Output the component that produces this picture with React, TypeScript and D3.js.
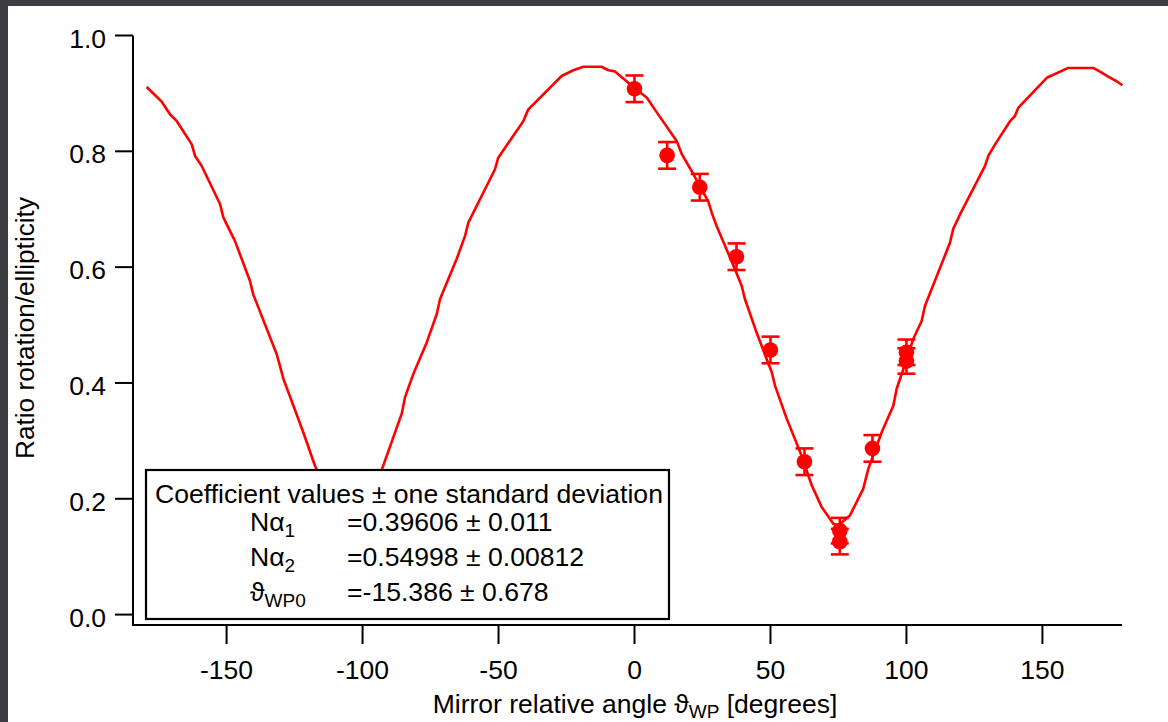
import React from "react";
import * as d3 from "d3";

// Fit curve
const curveX = [
  -179.4, -173.9, -170.8, -168.3, -162.8, -161.6, -159.2, -152.4, -151.2, -146.9,
  -141.4, -140.2, -131.6, -130.4, -129.1, -121.8, -117.5, -112, -108, -104.5, -101, -97,
  -92.4, -88.7, -85.6, -84.4, -81.3, -76.4, -72.7, -71.5, -65.4, -62.3, -61.1, -51.3,
  -50.1, -40.9, -39.1, -26.8, -22.5, -18.8, -12.1, -9.6, -7.2, -2.9, 0.2, 4.5, 7.5,
  15.5, 17.4, 21.0, 27.1, 28.4, 30.2, 36.9, 39.4, 40.6, 44.9, 50.5, 51.7, 56.0, 60.9,
  65.2, 68.8, 73.1, 74.9, 79.2, 84.1, 86.0, 90.9, 95.2, 96.4, 100.1, 102.5, 105.6,
  106.8, 116.0, 117.2, 119.7, 128.9, 130.1, 132.6, 138.1, 139.9, 141.1, 151.6, 159.5,
  168.7, 171.8, 174.2, 177.3, 179.4,
];
const curveY = [
  0.911, 0.886, 0.864, 0.852, 0.812, 0.792, 0.775, 0.709, 0.686, 0.645,
  0.576, 0.553, 0.45, 0.43, 0.407, 0.315, 0.257, 0.2, 0.165, 0.152, 0.165, 0.2,
  0.257, 0.306, 0.347, 0.375, 0.416, 0.47, 0.519, 0.545, 0.614, 0.654, 0.677, 0.769,
  0.789, 0.852, 0.872, 0.93, 0.94, 0.946, 0.946, 0.94, 0.938, 0.921, 0.908, 0.893, 0.872,
  0.818, 0.795, 0.766, 0.714, 0.694, 0.671, 0.597, 0.568, 0.545, 0.487, 0.418, 0.395, 0.338, 0.281,
  0.223, 0.186, 0.157, 0.154, 0.171, 0.217, 0.252, 0.315, 0.361, 0.39, 0.441, 0.476, 0.507,
  0.533, 0.642, 0.666, 0.691, 0.775, 0.792, 0.812, 0.852, 0.861, 0.875, 0.927, 0.944,
  0.944, 0.936, 0.929, 0.921, 0.914,
];

// Measured points
const ptX = [0, 12, 24, 37.5, 50, 62.5, 75.5, 75.5, 87.5, 100, 100];
const ptY = [0.908, 0.793, 0.738, 0.618, 0.457, 0.264, 0.145, 0.126, 0.287, 0.453, 0.438];
const ptErr = [0.023, 0.023, 0.023, 0.023, 0.023, 0.023, 0.022, 0.022, 0.023, 0.022, 0.022];

const xTicks = [-150, -100, -50, 0, 50, 100, 150];
const yTicks = [0, 0.2, 0.4, 0.6, 0.8, 1.0];

const legendRows = [
  { name: "N\u03b1", sub: "1", value: "=0.39606 \u00b1 0.011" },
  { name: "N\u03b1", sub: "2", value: "=0.54998 \u00b1 0.00812" },
  { name: "\u03d1", sub: "WP0", value: "=-15.386 \u00b1 0.678" },
];

const W = 1168;
const H = 722;
const RED = "#ff0000";
const FONT = "'Liberation Sans', Arial, Helvetica, sans-serif";

export default function App() {
  const x = d3.scaleLinear().domain([-180, 180]).range([145, 1124]);
  const y = d3.scaleLinear().domain([0, 1]).range([614.6, 35.5]);
  const axisX = 133;
  const axisY = 625;

  const line = d3
    .line<number>()
    .x((_, i) => x(curveX[i]))
    .y((_, i) => y(curveY[i]));
  const path = line(curveX) || "";

  const lb = { x: 146, y: 470, w: 523, h: 149 };

  return (
    <svg
      width={W}
      height={H}
      style={{ position: "absolute", left: 0, top: 0, display: "block" }}
      fontFamily={FONT}
    >
      <rect x={0} y={0} width={W} height={H} fill="#3c3d41" />
      <rect x={8} y={6} width={W - 8} height={H - 6} fill="#ffffff" />

      {/* curve */}
      <path d={path} fill="none" stroke={RED} strokeWidth={2.6} strokeLinejoin="round" />

      {/* data with error bars */}
      {ptX.map((v, i) => {
        const cx = x(v);
        const y1 = y(ptY[i] + ptErr[i]);
        const y2 = y(ptY[i] - ptErr[i]);
        return (
          <g key={i} stroke={RED} strokeWidth={2.6}>
            <line x1={cx} x2={cx} y1={y1} y2={y2} />
            <line x1={cx - 9} x2={cx + 9} y1={y1} y2={y1} />
            <line x1={cx - 9} x2={cx + 9} y1={y2} y2={y2} />
            <circle cx={cx} cy={y(ptY[i])} r={7.8} fill={RED} stroke="none" />
          </g>
        );
      })}

      {/* axes */}
      <g stroke="#000" strokeWidth={2}>
        <line x1={axisX} x2={axisX} y1={y(1)} y2={axisY + 1} />
        <line x1={axisX - 1} x2={1122} y1={axisY} y2={axisY} />
        {yTicks.map((t) => (
          <line key={t} x1={axisX - 18} x2={axisX} y1={y(t)} y2={y(t)} />
        ))}
        {xTicks.map((t) => (
          <line key={t} x1={x(t)} x2={x(t)} y1={axisY} y2={axisY + 19} />
        ))}
      </g>
      <g fontSize={26.5} fill="#000">
        {yTicks.map((t) => (
          <text key={t} x={106} y={y(t) + 12} textAnchor="end">
            {t.toFixed(1)}
          </text>
        ))}
        {xTicks.map((t) => (
          <text key={t} x={x(t)} y={679} textAnchor="middle">
            {t}
          </text>
        ))}
      </g>

      {/* axis titles */}
      <text x={635} y={713} textAnchor="middle" fontSize={26.5} fill="#000">
        Mirror relative angle {"\u03d1"}
        <tspan fontSize={19} dy={5}>WP</tspan>
        <tspan dy={-5}> [degrees]</tspan>
      </text>
      <text
        transform={`translate(34, 328) rotate(-90)`}
        textAnchor="middle"
        fontSize={26.2}
        fill="#000"
      >
        Ratio rotation/ellipticity
      </text>

      {/* legend box */}
      <rect x={lb.x} y={lb.y} width={lb.w} height={lb.h} fill="#fff" stroke="#000" strokeWidth={2.2} />
      <g fontSize={26.6} fill="#000">
        <text x={155} y={503}>Coefficient values {"\u00b1"} one standard deviation</text>
        {legendRows.map((r, i) => (
          <g key={i}>
            <text x={250} y={531 + i * 35}>
              {r.name}
              <tspan fontSize={19} dy={6}>{r.sub}</tspan>
            </text>
            <text x={347} y={531 + i * 35}>{r.value}</text>
          </g>
        ))}
      </g>
    </svg>
  );
}
